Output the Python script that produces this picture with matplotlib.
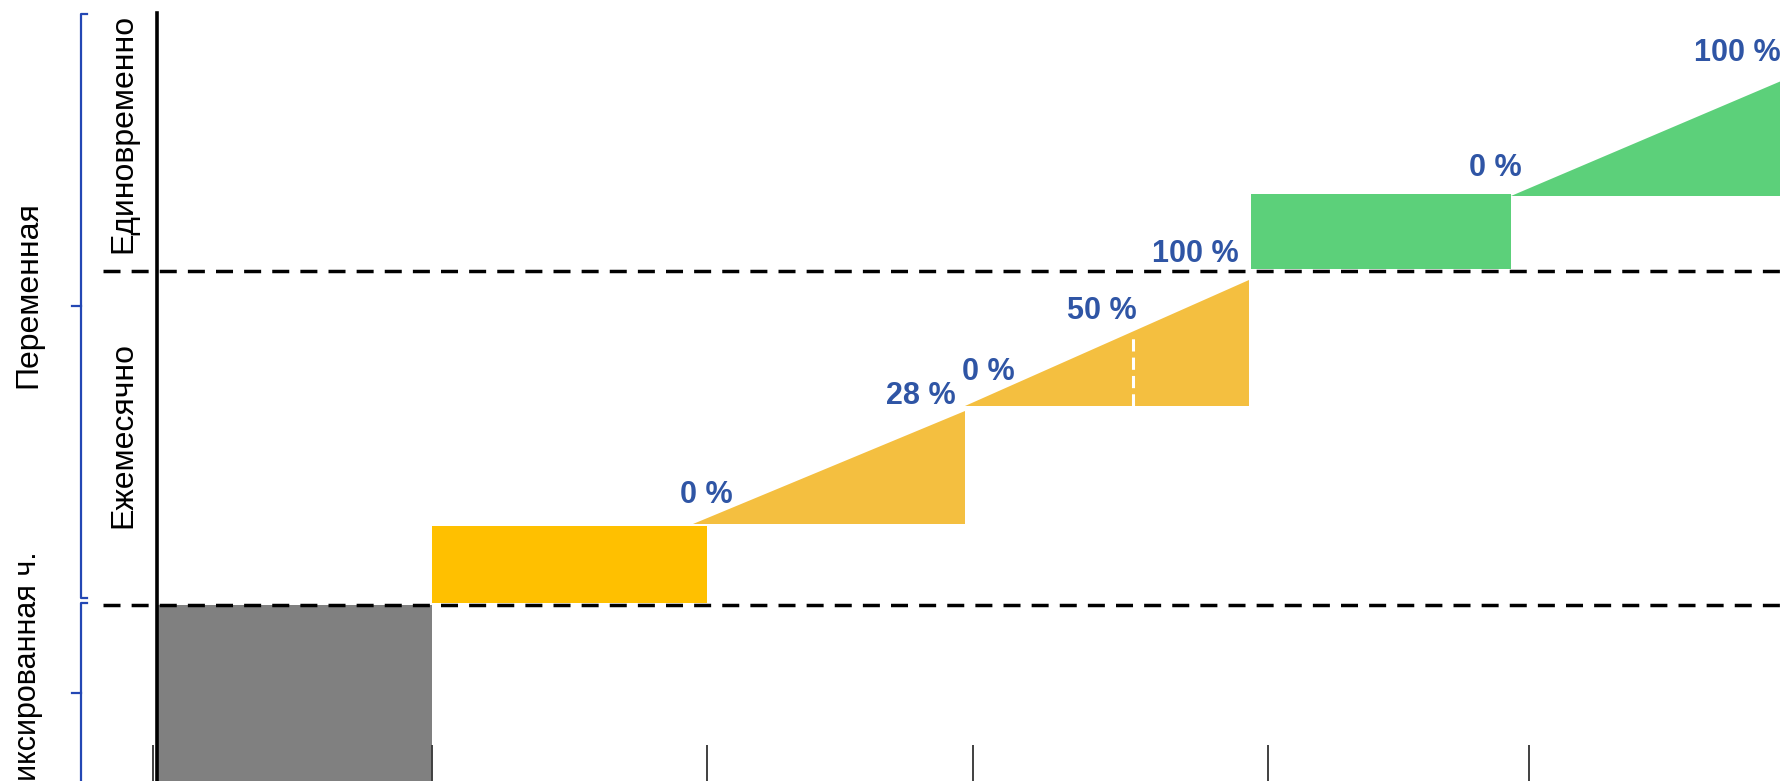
import matplotlib
matplotlib.use("Agg")
import matplotlib.pyplot as plt

plt.rcParams['font.family'] = ['Liberation Sans', 'DejaVu Sans']

# --- data (x: stage units, y: cost level; 1.0 = fixed part, 2.0 = monthly part) ---
fixed_x = [0.0, 1.0]
fixed_y = [0.40, 1.0]

monthly_bar_x = [1.0, 2.0]
monthly_bar_y = [1.006, 1.236]

# ramps: (x_start, x_end, base, top)
monthly_ramps = [(1.95, 2.94, 1.243, 1.581),
                 (2.94, 3.97, 1.596, 1.973)]
onetime_bar_x = [3.98, 4.925]
onetime_bar_y = [2.006, 2.231]
onetime_ramp = (4.925, 5.95, 2.225, 2.583)

half_mark_x = 3.55  # 50 % marker inside second ramp

tick_x = [-0.015, 1.0, 2.0, 2.967, 4.04, 4.99]

pct_labels = ['0 %', '28 %', '0 %', '50 %', '100 %', '0 %', '100 %']
pct_pos = [(1.996, 1.329), (2.778, 1.626), (3.022, 1.698), (3.436, 1.880),
           (3.775, 2.051), (4.865, 2.308), (5.745, 2.653)]

levels = [1.0, 2.0]

c_gray = '#808080'
c_yellow = '#FFC000'
c_ramp = '#F4BF40'
c_green = '#5CD07A'
c_blue = '#2F55A5'
c_brace = '#2347B4'

fig = plt.figure(figsize=(17.8, 7.81), dpi=100)
ax = fig.add_axes([0, 0, 1, 1])
ax.set_xlim(-0.571, 5.902)
ax.set_ylim(0.473, 2.811)
ax.axis('off')

# fixed part
ax.fill_between(fixed_x, fixed_y[0], fixed_y[1], color=c_gray, lw=0, zorder=1)

# level separators
for lv in levels:
    ax.plot([-0.196, 6.0], [lv, lv], color='black', lw=2.5,
            dashes=(4.9, 3.2), zorder=2)

# monthly part
ax.fill_between(monthly_bar_x, monthly_bar_y[0], monthly_bar_y[1],
                color=c_yellow, lw=0, zorder=3)
for x0, x1, b, t in monthly_ramps:
    ax.fill([x0, x1, x1], [b, b, t], color=c_ramp, lw=0, zorder=3)

x0, x1, b, t = monthly_ramps[1]
half_top = b + (half_mark_x - x0) / (x1 - x0) * (t - b)
ax.plot([half_mark_x, half_mark_x], [b, half_top - 0.02], color='white',
        lw=2.2, dashes=(4.0, 2.0), zorder=4)

# one-time part
ax.fill_between(onetime_bar_x, onetime_bar_y[0], onetime_bar_y[1],
                color=c_green, lw=0, zorder=3)
x0, x1, b, t = onetime_ramp
ax.fill([x0, x1, x1], [b, b, t], color=c_green, lw=0, zorder=3)

# percent labels
for txt, (px, py) in zip(pct_labels, pct_pos):
    ax.text(px, py, txt, ha='center', va='center', fontsize=22,
            fontweight='bold', color=c_blue, zorder=5)

# vertical axis and bottom ticks
ax.plot([0, 0], [0.4, 2.772], color='black', lw=2.6, zorder=6)
ax.vlines(tick_x, 0.4, 0.581, color='#404040', lw=1.4, zorder=6)

# left braces
bx, hook_r, tick_l = -0.276, -0.255, -0.309
for top, bot in [(2.769, 1.021), (1.006, 0.466)]:
    mid = (top + bot) / 2
    ax.plot([hook_r, bx, bx, hook_r], [top, top, bot, bot], color=c_brace,
            lw=1.6, zorder=6)
    ax.plot([bx, tick_l], [mid, mid], color=c_brace, lw=1.6, zorder=6)

# left captions
ax.text(-0.469, 1.93, 'Переменная', rotation=90, ha='center', va='center',
        fontsize=23, color='black')
ax.text(-0.469, 1.159, 'Фиксированная ч.', rotation=90, ha='center', va='top',
        fontsize=22, color='black')
ax.text(-0.124, 2.413, 'Единовременно', rotation=90, ha='center', va='center',
        fontsize=23, color='black')
ax.text(-0.124, 1.509, 'Ежемесячно', rotation=90, ha='center', va='center',
        fontsize=23, color='black')

fig.savefig('out.png', dpi=100)
